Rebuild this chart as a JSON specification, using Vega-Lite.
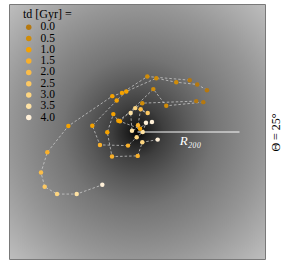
{
  "$schema": "https://vega.github.io/schema/vega-lite/v6.json",
  "width": 255,
  "height": 254,
  "autosize": {"type": "none"},
  "padding": {"left": 10, "top": 5, "right": 24, "bottom": 10},
  "background": "white",
  "config": {
    "view": {"stroke": "#4d4d4d", "strokeWidth": 1.5},
    "font": "Liberation Serif"
  },
  "datasets": {
    "halo": [{"x": -1.25, "x2": 1.25, "y": -1.25, "y2": 1.25}],
    "r200": [{"x": 0, "x2": 1, "y": 0, "label": "R₂₀₀"}],
    "traj": [
      {"track": 1, "o": 0, "x": 0.512, "y": 0.510, "t": "0.0"},
      {"track": 1, "o": 1, "x": 0.096, "y": 0.546, "t": "0.5"},
      {"track": 1, "o": 2, "x": -0.152, "y": 0.385, "t": "1.0"},
      {"track": 1, "o": 3, "x": -0.247, "y": 0.353, "t": "1.0"},
      {"track": 1, "o": 4, "x": -0.678, "y": 0.059, "t": "1.0"},
      {"track": 1, "o": 5, "x": -0.884, "y": -0.199, "t": "1.5"},
      {"track": 1, "o": 6, "x": -0.946, "y": -0.399, "t": "2.0"},
      {"track": 1, "o": 7, "x": -0.910, "y": -0.539, "t": "2.5"},
      {"track": 1, "o": 8, "x": -0.789, "y": -0.611, "t": "3.0"},
      {"track": 1, "o": 9, "x": -0.596, "y": -0.611, "t": "3.5"},
      {"track": 1, "o": 10, "x": -0.345, "y": -0.520, "t": "4.0"},
      {"track": 2, "o": 0, "x": 0.681, "y": 0.412, "t": "0.0"},
      {"track": 2, "o": 1, "x": 0.586, "y": 0.468, "t": "0.0"},
      {"track": 2, "o": 2, "x": 0.380, "y": 0.490, "t": "0.5"},
      {"track": 2, "o": 3, "x": 0.184, "y": 0.529, "t": "0.5"},
      {"track": 2, "o": 4, "x": -0.110, "y": 0.399, "t": "1.0"},
      {"track": 2, "o": 5, "x": -0.204, "y": 0.311, "t": "1.0"},
      {"track": 2, "o": 6, "x": -0.443, "y": 0.062, "t": "1.0"},
      {"track": 2, "o": 7, "x": -0.368, "y": -0.127, "t": "1.5"},
      {"track": 2, "o": 8, "x": -0.093, "y": -0.134, "t": "1.5"},
      {"track": 2, "o": 9, "x": -0.008, "y": -0.052, "t": "3.0"},
      {"track": 2, "o": 10, "x": 0.051, "y": 0.000, "t": "3.5"},
      {"track": 2, "o": 11, "x": 0.083, "y": 0.091, "t": "4.0"},
      {"track": 3, "o": 0, "x": 0.576, "y": 0.304, "t": "0.0"},
      {"track": 3, "o": 1, "x": 0.047, "y": 0.284, "t": "0.5"},
      {"track": 3, "o": 2, "x": -0.188, "y": 0.111, "t": "1.0"},
      {"track": 3, "o": 3, "x": -0.237, "y": 0.176, "t": "1.0"},
      {"track": 3, "o": 4, "x": -0.296, "y": -0.003, "t": "1.0"},
      {"track": 3, "o": 5, "x": -0.250, "y": -0.242, "t": "1.5"},
      {"track": 3, "o": 6, "x": 0.002, "y": -0.235, "t": "1.5"},
      {"track": 3, "o": 7, "x": 0.047, "y": -0.101, "t": "3.0"},
      {"track": 3, "o": 8, "x": 0.198, "y": -0.075, "t": "4.0"},
      {"track": 4, "o": 0, "x": 0.645, "y": 0.294, "t": "0.0"},
      {"track": 4, "o": 1, "x": 0.282, "y": 0.258, "t": "0.5"},
      {"track": 4, "o": 2, "x": 0.155, "y": 0.422, "t": "0.5"},
      {"track": 4, "o": 3, "x": -0.172, "y": 0.105, "t": "1.0"},
      {"track": 4, "o": 4, "x": 0.025, "y": 0.032, "t": "1.0"},
      {"track": 4, "o": 5, "x": 0.005, "y": 0.066, "t": "1.5"},
      {"track": 4, "o": 6, "x": 0.031, "y": 0.225, "t": "2.0"},
      {"track": 4, "o": 7, "x": 0.100, "y": 0.186, "t": "2.5"},
      {"track": 4, "o": 8, "x": -0.022, "y": 0.235, "t": "3.0"},
      {"track": 4, "o": 9, "x": -0.067, "y": 0.186, "t": "3.5"},
      {"track": 4, "o": 10, "x": -0.054, "y": 0.013, "t": "3.5"},
      {"track": 4, "o": 11, "x": 0.142, "y": 0.098, "t": "4.0"}
    ]
  },
  "encoding": {
    "x": {"field": "x", "type": "quantitative", "scale": {"domain": [-1.25, 1.25], "nice": false, "zero": false}, "axis": null},
    "y": {"field": "y", "type": "quantitative", "scale": {"domain": [-1.25, 1.25], "nice": false, "zero": false},
      "axis": {"orient": "right", "title": "Θ = 25°", "labels": false, "ticks": false, "domain": false, "grid": false,
        "titleAngle": 270, "titleBaseline": "top", "titleAlign": "center", "titleFont": "Liberation Serif", "titleFontSize": 12, "titleFontWeight": "normal", "titleColor": "black", "titlePadding": 5}}
  },
  "layer": [
    {
      "data": {"name": "halo"},
      "mark": {"type": "rect", "fill": {"gradient": "radial", "x1": 0.5, "y1": 0.5, "r1": 0, "x2": 0.5, "y2": 0.5, "r2": 0.72,
        "stops": [
          {"offset": 0, "color": "#000000"},
          {"offset": 0.05, "color": "#1e1e1e"},
          {"offset": 0.14, "color": "#3e3e3e"},
          {"offset": 0.27, "color": "#5a5a5a"},
          {"offset": 0.41, "color": "#747474"},
          {"offset": 0.69, "color": "#969696"},
          {"offset": 1, "color": "#c0c0c0"}
        ]}},
      "encoding": {"x2": {"field": "x2"}, "y2": {"field": "y2"}}
    },
    {
      "data": {"name": "r200"},
      "mark": {"type": "rule", "color": "#ffffff", "opacity": 0.65, "strokeWidth": 1.5},
      "encoding": {"x2": {"field": "x2"}}
    },
    {
      "data": {"name": "r200"},
      "mark": {"type": "text", "color": "white", "font": "Liberation Serif", "fontSize": 13, "fontStyle": "italic", "baseline": "top", "align": "center", "dy": 3},
      "encoding": {"x": {"datum": 0.52, "type": "quantitative"}, "text": {"field": "label"}}
    },
    {
      "data": {"name": "traj"},
      "mark": {"type": "line", "color": "#d8d8d8", "strokeWidth": 0.8, "strokeDash": [2.5, 2], "opacity": 0.85},
      "encoding": {"detail": {"field": "track"}, "order": {"field": "o", "type": "quantitative"}}
    },
    {
      "data": {"name": "traj"},
      "mark": {"type": "circle", "size": 20, "opacity": 1},
      "encoding": {
        "color": {"field": "t", "type": "nominal",
          "scale": {"domain": ["0.0", "0.5", "1.0", "1.5", "2.0", "2.5", "3.0", "3.5", "4.0"],
            "range": ["#b5780f", "#d08c08", "#f5a200", "#f9b02a", "#fbbd48", "#fcc862", "#fdd580", "#fee2a4", "#fff0d8"]},
          "legend": {"orient": "none", "legendX": 13, "legendY": 4, "title": "td [Gyr] =",
            "titleFont": "Liberation Serif", "titleFontSize": 12, "titleFontWeight": "normal", "titleColor": "black", "titlePadding": 2,
            "labelFont": "Liberation Serif", "labelFontSize": 11.5, "labelColor": "black", "labelOffset": 6,
            "symbolType": "circle", "symbolSize": 30, "symbolStrokeWidth": 0, "symbolOpacity": 1,
            "clipHeight": 8.4, "rowPadding": -0.7, "padding": 0}}
      }
    }
  ]
}
